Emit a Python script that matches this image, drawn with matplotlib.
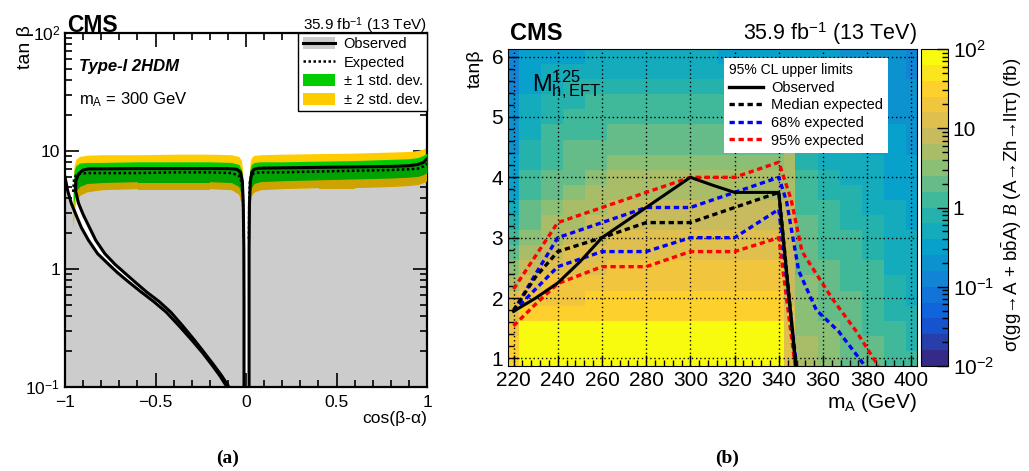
import matplotlib
matplotlib.use('Agg')
import matplotlib.pyplot as plt
import numpy as np
from matplotlib.colors import LinearSegmentedColormap, BoundaryNorm
from matplotlib.patches import Patch, PathPatch
from matplotlib.lines import Line2D
from matplotlib.path import Path
from matplotlib.ticker import FixedLocator, FixedFormatter, MultipleLocator, LogLocator, NullFormatter

plt.rcParams['font.family'] = ['Liberation Sans', 'DejaVu Sans']
plt.rcParams['mathtext.fontset'] = 'custom'
plt.rcParams['mathtext.rm'] = 'Liberation Sans'
plt.rcParams['mathtext.it'] = 'Liberation Serif:italic'
plt.rcParams['mathtext.bf'] = 'Liberation Sans:bold'

# ---------------- (a) Type-I 2HDM, m_A = 300 GeV ----------------
# observed limit, outer edge of the wrong-sign strip
obs_l_cos = [-1.0, -0.985, -0.965, -0.94, -0.91, -0.87, -0.82, -0.76, -0.713, -0.65, -0.58, -0.51,
             -0.44, -0.37, -0.30, -0.24, -0.19, -0.145, -0.105]
obs_l_tan = [6.0, 4.6, 3.6, 2.9, 2.25, 1.75, 1.35, 1.1, 0.94, 0.78, 0.64, 0.53,
             0.43, 0.33, 0.25, 0.195, 0.155, 0.125, 0.1]
# observed limit, inner edge of the strip + upper limit up to the alignment gap
obs_r_cos = [-0.094, -0.135, -0.18, -0.23, -0.285, -0.35, -0.415, -0.48, -0.55, -0.615, -0.675, -0.725,
             -0.78, -0.83, -0.865, -0.9, -0.925, -0.942, -0.94, -0.925, -0.90, -0.87,
             -0.6, -0.3, -0.1, -0.05, -0.03, -0.02, -0.015, -0.012, -0.011, -0.011]
obs_r_tan = [0.1, 0.125, 0.155, 0.195, 0.25, 0.33, 0.43, 0.53, 0.64, 0.78, 0.94, 1.1,
             1.35, 1.75, 2.25, 2.9, 3.6, 4.6, 5.6, 6.4, 6.9, 7.05,
             7.1, 7.1, 7.1, 7.0, 6.6, 5.5, 3.5, 1.5, 0.5, 0.1]
# observed limit right of the gap
obs_rr_cos = [0.017, 0.017, 0.019, 0.024, 0.032, 0.045, 0.07, 0.2, 0.5, 0.8, 0.9, 0.95, 0.98, 1.0]
obs_rr_tan = [0.1, 1.5, 3.5, 5.5, 6.6, 7.0, 7.15, 7.2, 7.3, 7.4, 7.5, 7.7, 8.0, 8.6]

band_cos_l = [-0.955, -0.95, -0.94, -0.92, -0.88, -0.8, -0.6, -0.4, -0.2, -0.08, -0.04, -0.025, -0.017, -0.012]
y2_hi_l = [5.5, 7.5, 8.5, 9.0, 9.2, 9.3, 9.3, 9.4, 9.4, 9.3, 9.0, 8.3, 6.5, 3.0]
y1_hi_l = [5.0, 6.8, 7.5, 7.9, 8.0, 8.0, 8.1, 8.1, 8.1, 8.0, 7.7, 7.0, 5.5, 2.5]
exp_l = [4.5, 5.8, 6.2, 6.4, 6.5, 6.5, 6.5, 6.6, 6.6, 6.5, 6.2, 5.5, 4.2, 1.8]
y1_lo_l = [3.0, 3.8, 4.5, 5.0, 5.3, 5.4, 5.5, 5.5, 5.5, 5.4, 5.0, 4.3, 3.0, 1.2]
y2_lo_l = [2.2, 3.0, 3.7, 4.2, 4.5, 4.7, 4.8, 4.8, 4.8, 4.7, 4.3, 3.6, 2.5, 1.0]

band_cos_r = [0.016, 0.018, 0.022, 0.03, 0.045, 0.08, 0.2, 0.4, 0.6, 0.8, 0.9, 0.95, 0.98, 1.0]
y2_hi_r = [3.0, 6.0, 8.0, 8.8, 9.2, 9.3, 9.4, 9.5, 9.6, 9.8, 9.9, 10.1, 10.4, 10.8]
y1_hi_r = [2.5, 5.0, 7.0, 7.7, 8.0, 8.1, 8.1, 8.2, 8.3, 8.5, 8.6, 8.8, 9.2, 9.6]
exp_r = [1.8, 4.0, 5.6, 6.2, 6.5, 6.6, 6.6, 6.7, 6.8, 6.9, 7.0, 7.1, 7.4, 7.8]
y1_lo_r = [1.2, 2.8, 4.3, 4.9, 5.3, 5.5, 5.6, 5.7, 5.8, 5.9, 6.0, 6.1, 6.3, 6.6]
y2_lo_r = [1.0, 2.4, 3.6, 4.2, 4.5, 4.7, 4.8, 4.9, 4.9, 5.0, 5.1, 5.2, 5.4, 5.6]

# ---------------- (b) M_h,EFT^125 scan ----------------
heat_m_edges = [217.5, 222.5, 232.5, 242.5, 252.5, 262.5, 272.5, 282.5, 292.5, 302.5, 312.5,
                322.5, 332.5, 342.5, 347.5, 357.5, 367.5, 377.5, 387.5, 397.5, 402.5]
heat_tan_edges = np.arange(0.875, 6.2, 0.25)
# log10(sigma x B / fb); one list per mass bin, tan(beta) = 1.0 ... 6.0
xsec_log10 = [
    [1.5, 1.45, 1.35, 1.2, 1.0, 0.8, 0.5, 0.25, 0.0, -0.15, -0.3, -0.4, -0.5, -0.55, -0.6, -0.65, -0.7, -0.75, -0.8, -0.85, -0.9],
    [1.9, 1.9, 1.85, 1.5, 1.3, 1.1, 0.95, 0.75, 0.55, 0.4, 0.25, 0.15, 0.05, -0.05, -0.1, -0.2, -0.3, -0.35, -0.4, -0.45, -0.5],
    [1.95, 1.95, 1.9, 1.5, 1.4, 1.25, 1.1, 0.9, 0.8, 0.65, 0.5, 0.35, 0.25, 0.15, 0.1, 0.05, -0.05, -0.15, -0.25, -0.35, -0.45],
    [1.95, 1.95, 1.9, 1.55, 1.4, 1.3, 1.2, 1.0, 0.9, 0.8, 0.65, 0.5, 0.4, 0.3, 0.25, 0.15, 0.05, -0.05, -0.1, -0.25, -0.4],
    [1.95, 1.95, 1.9, 1.55, 1.45, 1.35, 1.15, 1.0, 0.95, 0.85, 0.75, 0.65, 0.55, 0.4, 0.3, 0.2, 0.1, 0.0, -0.1, -0.2, -0.35],
    [1.95, 1.95, 1.9, 1.55, 1.45, 1.35, 1.25, 1.1, 1.05, 0.95, 0.85, 0.75, 0.65, 0.45, 0.35, 0.25, 0.15, 0.05, -0.05, -0.2, -0.35],
    [1.95, 1.95, 1.9, 1.55, 1.45, 1.35, 1.25, 1.1, 1.05, 0.95, 0.85, 0.75, 0.65, 0.45, 0.35, 0.25, 0.15, 0.05, -0.05, -0.2, -0.35],
    [1.95, 1.95, 1.9, 1.55, 1.45, 1.35, 1.25, 1.1, 1.05, 0.95, 0.85, 0.75, 0.65, 0.45, 0.35, 0.25, 0.15, 0.05, -0.05, -0.2, -0.35],
    [1.95, 1.95, 1.9, 1.55, 1.45, 1.35, 1.25, 1.1, 1.05, 0.95, 0.85, 0.75, 0.65, 0.45, 0.35, 0.25, 0.15, 0.05, -0.05, -0.2, -0.35],
    [1.95, 1.95, 1.9, 1.55, 1.45, 1.35, 1.25, 1.1, 1.05, 0.95, 0.85, 0.75, 0.65, 0.45, 0.35, 0.25, 0.15, 0.05, -0.05, -0.2, -0.35],
    [1.95, 1.95, 1.9, 1.55, 1.45, 1.35, 1.25, 1.1, 1.05, 0.95, 0.85, 0.75, 0.65, 0.45, 0.35, 0.25, 0.1, 0.0, -0.1, -0.25, -0.4],
    [1.95, 1.95, 1.9, 1.55, 1.45, 1.35, 1.25, 1.1, 1.05, 0.95, 0.85, 0.75, 0.65, 0.45, 0.35, 0.25, 0.1, 0.0, -0.1, -0.25, -0.4],
    [1.95, 1.95, 1.9, 1.55, 1.45, 1.35, 1.25, 1.1, 1.05, 0.95, 0.85, 0.75, 0.65, 0.45, 0.35, 0.25, 0.1, 0.0, -0.1, -0.25, -0.4],
    [1.1, 1.1, 1.05, 1.0, 0.95, 0.95, 0.9, 0.9, 0.9, 0.85, 0.85, 0.8, 0.8, 0.75, 0.7, 0.2, 0.1, 0.0, -0.1, -0.25, -0.4],
    [0.65, 0.62, 0.6, 0.55, 0.5, 0.45, 0.4, 0.35, 0.3, 0.25, 0.15, 0.1, 0.05, -0.05, -0.1, -0.15, -0.25, -0.3, -0.35, -0.4, -0.45],
    [0.5, 0.47, 0.45, 0.4, 0.35, 0.3, 0.25, 0.2, 0.1, 0.05, 0.0, -0.05, -0.1, -0.2, -0.25, -0.3, -0.35, -0.4, -0.45, -0.5, -0.55],
    [0.4, 0.37, 0.35, 0.3, 0.25, 0.2, 0.1, 0.05, 0.0, -0.05, -0.1, -0.15, -0.2, -0.25, -0.3, -0.35, -0.4, -0.45, -0.5, -0.55, -0.6],
    [0.3, 0.25, 0.2, 0.15, 0.1, 0.05, 0.0, -0.05, -0.1, -0.15, -0.2, -0.25, -0.3, -0.35, -0.4, -0.45, -0.5, -0.55, -0.6, -0.6, -0.65],
    [0.1, 0.05, 0.0, -0.05, -0.1, -0.15, -0.2, -0.25, -0.3, -0.3, -0.35, -0.4, -0.45, -0.5, -0.5, -0.55, -0.6, -0.6, -0.65, -0.7, -0.75],
    [0.0, -0.05, -0.1, -0.15, -0.2, -0.25, -0.25, -0.3, -0.35, -0.4, -0.45, -0.5, -0.5, -0.55, -0.6, -0.65, -0.7, -0.7, -0.75, -0.8, -0.85],
]

obs_m = [220, 230, 240, 250, 260, 280, 300, 310, 320, 340, 347.7]
obs_t = [1.78, 2.0, 2.25, 2.6, 3.0, 3.5, 4.0, 3.87, 3.75, 3.75, 0.875]
med_m = [220, 230, 240, 260, 280, 300, 320, 340, 347.7]
med_t = [1.8, 2.35, 2.77, 3.0, 3.25, 3.25, 3.5, 3.75, 0.875]
e68_hi_m = [220, 230, 240, 280, 300, 320, 340, 343.5, 349, 357, 367, 379]
e68_hi_t = [1.78, 2.4, 3.0, 3.5, 3.5, 3.75, 4.0, 3.6, 2.45, 1.8, 1.45, 0.875]
e68_lo_m = [220, 230, 240, 260, 280, 300, 320, 340, 348]
e68_lo_t = [1.78, 2.15, 2.52, 2.77, 2.77, 3.0, 3.0, 3.47, 0.875]
e95_hi_m = [220, 230, 240, 260, 280, 300, 320, 340, 345.5, 350.5, 364, 375, 385]
e95_hi_t = [2.15, 2.7, 3.25, 3.5, 3.75, 4.0, 4.0, 4.25, 3.64, 2.77, 2.0, 1.45, 0.875]
e95_lo_m = [220, 230, 240, 260, 280, 300, 320, 340, 347.4]
e95_lo_t = [1.54, 1.9, 2.24, 2.52, 2.52, 2.77, 2.77, 3.0, 0.875]

GRAY = '#cccccc'
YELLOW, GREEN = '#ffcc00', '#00cc00'
YELLOW_D, GREEN_D = '#cca300', '#00a300'

fig = plt.figure(figsize=(10.29, 4.71), dpi=100)
W, H = 1029, 471

def box(x0, y0, x1, y1):
    return [x0 / W, 1 - y1 / H, (x1 - x0) / W, (y1 - y0) / H]

# ================= panel (a) =================
ax1 = fig.add_axes(box(65, 33, 427, 387))
ax1.set_yscale('log')
ax1.set_xlim(-1, 1)
ax1.set_ylim(0.1, 100)

polys = [
    (np.r_[-1.0, obs_l_cos], np.r_[0.1, obs_l_tan]),
    (np.array(obs_r_cos), np.array(obs_r_tan)),
    (np.r_[obs_rr_cos, 1.0], np.r_[obs_rr_tan, 0.1]),
]
paths = []
for xs, ys in polys:
    ax1.fill(xs, ys, color=GRAY, lw=0, zorder=1)
    v = np.column_stack([xs, ys])
    paths.append(Path(np.vstack([v, v[:1]]), closed=True))
clip = PathPatch(Path.make_compound_path(*paths), transform=ax1.transData,
                 facecolor='none', edgecolor='none')

for bx, y2lo, y2hi, y1lo, y1hi in [(band_cos_l, y2_lo_l, y2_hi_l, y1_lo_l, y1_hi_l),
                                   (band_cos_r, y2_lo_r, y2_hi_r, y1_lo_r, y1_hi_r)]:
    ax1.fill_between(bx, y2lo, y2hi, color=YELLOW, lw=0, zorder=2)
    ax1.fill_between(bx, y1lo, y1hi, color=GREEN, lw=0, zorder=3)
    d2 = ax1.fill_between(bx, y2lo, y2hi, color=YELLOW_D, lw=0, zorder=4)
    d1 = ax1.fill_between(bx, y1lo, y1hi, color=GREEN_D, lw=0, zorder=5)
    d2.set_clip_path(clip)
    d1.set_clip_path(clip)

ax1.plot(band_cos_l, exp_l, color='black', lw=1.8, ls=(0, (1, 1)), zorder=6)
ax1.plot(band_cos_r, exp_r, color='black', lw=1.8, ls=(0, (1, 1)), zorder=6)
for xs, ys in [(obs_l_cos, obs_l_tan), (obs_r_cos, obs_r_tan), (obs_rr_cos, obs_rr_tan)]:
    ax1.plot(xs, ys, color='black', lw=2.2, zorder=7, solid_joinstyle='round')

ax1.xaxis.set_major_locator(FixedLocator([-1, -0.5, 0, 0.5, 1]))
ax1.xaxis.set_major_formatter(FixedFormatter(['\u22121', '\u22120.5', '0', '0.5', '1']))
ax1.xaxis.set_minor_locator(MultipleLocator(0.1))
ax1.yaxis.set_major_locator(FixedLocator([0.1, 1, 10, 100]))
ax1.yaxis.set_major_formatter(FixedFormatter([r'$10^{-1}$', '1', '10', r'$10^{2}$']))
ax1.yaxis.set_minor_locator(LogLocator(subs=np.arange(2, 10)))
ax1.yaxis.set_minor_formatter(NullFormatter())
ax1.tick_params(which='both', direction='in', top=True, right=True, labelsize=12.5, width=1.2)
ax1.tick_params(which='major', length=10)
ax1.tick_params(which='minor', length=5)
ax1.tick_params(axis='x', pad=5.5)
for s in ax1.spines.values():
    s.set_linewidth(1.6)

leg1 = ax1.legend(
    [(Patch(facecolor=GRAY), Line2D([], [], color='black', lw=2.2)),
     Line2D([], [], color='black', lw=1.8, ls=(0, (1, 1))),
     Patch(facecolor=GREEN), Patch(facecolor=YELLOW)],
    ['Observed', 'Expected', '\u00b1 1 std. dev.', '\u00b1 2 std. dev.'],
    loc='upper right', bbox_to_anchor=(1, 1), borderaxespad=0, fontsize=10.5,
    fancybox=False, framealpha=1, edgecolor='black', handlelength=2.2, handleheight=0.9,
    labelspacing=0.3, borderpad=0.3, handletextpad=0.6)
leg1.get_frame().set_linewidth(1.0)
leg1.set_zorder(10)

ax1.text(0.04, 0.905, 'Type-I 2HDM', transform=ax1.transAxes, fontsize=12,
         fontweight='bold', fontstyle='italic', va='center')
ax1.text(0.04, 0.81, r'm$_{\rm A}$ = 300 GeV', transform=ax1.transAxes, fontsize=12, va='center')

fig.text(67 / W, 1 - 32 / H, 'CMS', fontsize=16.5, fontweight='bold', va='baseline')
fig.text(427 / W, 1 - 30 / H, r'35.9 fb$^{-1}$ (13 TeV)', fontsize=11, ha='right', va='baseline')
fig.text(25 / W, 1 - 47 / H, 'tan \u03b2', fontsize=14, rotation=90, ha='center', va='center')
fig.text(427 / W, 1 - 418 / H, 'cos(\u03b2-\u03b1)', fontsize=12.5, ha='right', va='center')
fig.text(228 / W, 1 - 458 / H, '(a)', fontsize=14, family='Liberation Serif', fontweight='bold',
         ha='center', va='center')

# ================= panel (b) =================
ax2 = fig.add_axes(box(508, 49, 917, 366))
bird = LinearSegmentedColormap.from_list('bird', list(zip(
    [0.0, 0.125, 0.25, 0.375, 0.5, 0.625, 0.75, 0.875, 1.0],
    [(0.2082, 0.1664, 0.5293), (0.0592, 0.3599, 0.8684), (0.0780, 0.5041, 0.8385),
     (0.0232, 0.6419, 0.7914), (0.1802, 0.7178, 0.6425), (0.5301, 0.7492, 0.4662),
     (0.8186, 0.7328, 0.3499), (0.9956, 0.7862, 0.1968), (0.9764, 0.9832, 0.0539)])))
norm = BoundaryNorm(np.linspace(-2, 2, 21), bird.N)
Z = np.array(xsec_log10).T
mesh = ax2.pcolormesh(heat_m_edges, heat_tan_edges, Z, cmap=bird, norm=norm, zorder=1)

ax2.set_xlim(217.5, 402.5)
ax2.set_ylim(0.875, 6.125)
ax2.set_axisbelow(False)
ax2.grid(True, which='major', color='black', ls=(0, (1, 2)), lw=1.0)

dash = (0, (1.6, 1.1))
ax2.plot(e95_hi_m, e95_hi_t, color='#ff0000', lw=2.4, ls=dash, zorder=3)
ax2.plot(e95_lo_m, e95_lo_t, color='#ff0000', lw=2.4, ls=dash, zorder=3)
ax2.plot(e68_hi_m, e68_hi_t, color='#0000ff', lw=2.4, ls=dash, zorder=3)
ax2.plot(e68_lo_m, e68_lo_t, color='#0000ff', lw=2.4, ls=dash, zorder=3)
ax2.plot(med_m, med_t, color='black', lw=2.4, ls=dash, zorder=3)
ax2.plot(obs_m, obs_t, color='black', lw=2.2, zorder=4)

ax2.xaxis.set_major_locator(MultipleLocator(20))
ax2.xaxis.set_minor_locator(MultipleLocator(4))
ax2.yaxis.set_major_locator(MultipleLocator(1))
ax2.yaxis.set_minor_locator(MultipleLocator(0.2))
ax2.tick_params(which='both', direction='in', labelsize=15, width=1.0)
ax2.tick_params(which='major', length=8)
ax2.tick_params(which='minor', length=4)

leg2 = ax2.legend(
    [Line2D([], [], color='black', lw=2.4),
     Line2D([], [], color='black', lw=2.4, ls=dash),
     Line2D([], [], color='#0000ff', lw=2.4, ls=dash),
     Line2D([], [], color='#ff0000', lw=2.4, ls=dash)],
    ['Observed', 'Median expected', '68% expected', '95% expected'],
    title='95% CL upper limits', title_fontsize=10, alignment='left',
    loc='upper left', bbox_to_anchor=(0.528, 0.972), borderaxespad=0, fontsize=10.5,
    fancybox=False, framealpha=1, edgecolor='none', handlelength=2.3,
    labelspacing=0.25, borderpad=0.35, handletextpad=0.6)
leg2.set_zorder(10)

ax2.text(24 / 409, 1 - 42 / 317, r'M$^{125}_{\rm h,EFT}$', transform=ax2.transAxes,
         fontsize=17, va='baseline')

cax = fig.add_axes(box(921, 49, 948, 366))
cb = fig.colorbar(mesh, cax=cax, ticks=[-2, -1, 0, 1, 2])
cb.ax.set_yticklabels([r'$10^{-2}$', r'$10^{-1}$', '1', '10', r'$10^{2}$'])
cb.ax.yaxis.set_minor_locator(FixedLocator(
    [d + np.log10(k) for d in (-2, -1, 0, 1) for k in range(2, 10)]))
cb.ax.tick_params(which='both', direction='in', labelsize=15, width=1.0)
cb.ax.tick_params(which='major', length=8)
cb.ax.tick_params(which='minor', length=4)
cb.outline.set_linewidth(0.8)

fig.text(510 / W, 1 - 40 / H, 'CMS', fontsize=17, fontweight='bold', va='baseline')
fig.text(917 / W, 1 - 40 / H, r'35.9 fb$^{-1}$ (13 TeV)', fontsize=15.5, ha='right', va='baseline')
fig.text(475 / W, 1 - 69 / H, 'tan\u03b2', fontsize=14, rotation=90, ha='center', va='center')
fig.text(917 / W, 1 - 403 / H, r'm$_{\rm A}$ (GeV)', fontsize=15, ha='right', va='center')
fig.text(1012 / W, 1 - 205 / H,
         '\u03c3(gg\u2192A + b$\\bar{\\rm b}$A) $\\it{B}$ (A\u2192Zh\u2192ll\u03c4\u03c4) (fb)',
         fontsize=13.5, rotation=90, ha='center', va='center')
fig.text(727 / W, 1 - 458 / H, '(b)', fontsize=14, family='Liberation Serif', fontweight='bold',
         ha='center', va='center')

fig.savefig('out.png', dpi=100)
